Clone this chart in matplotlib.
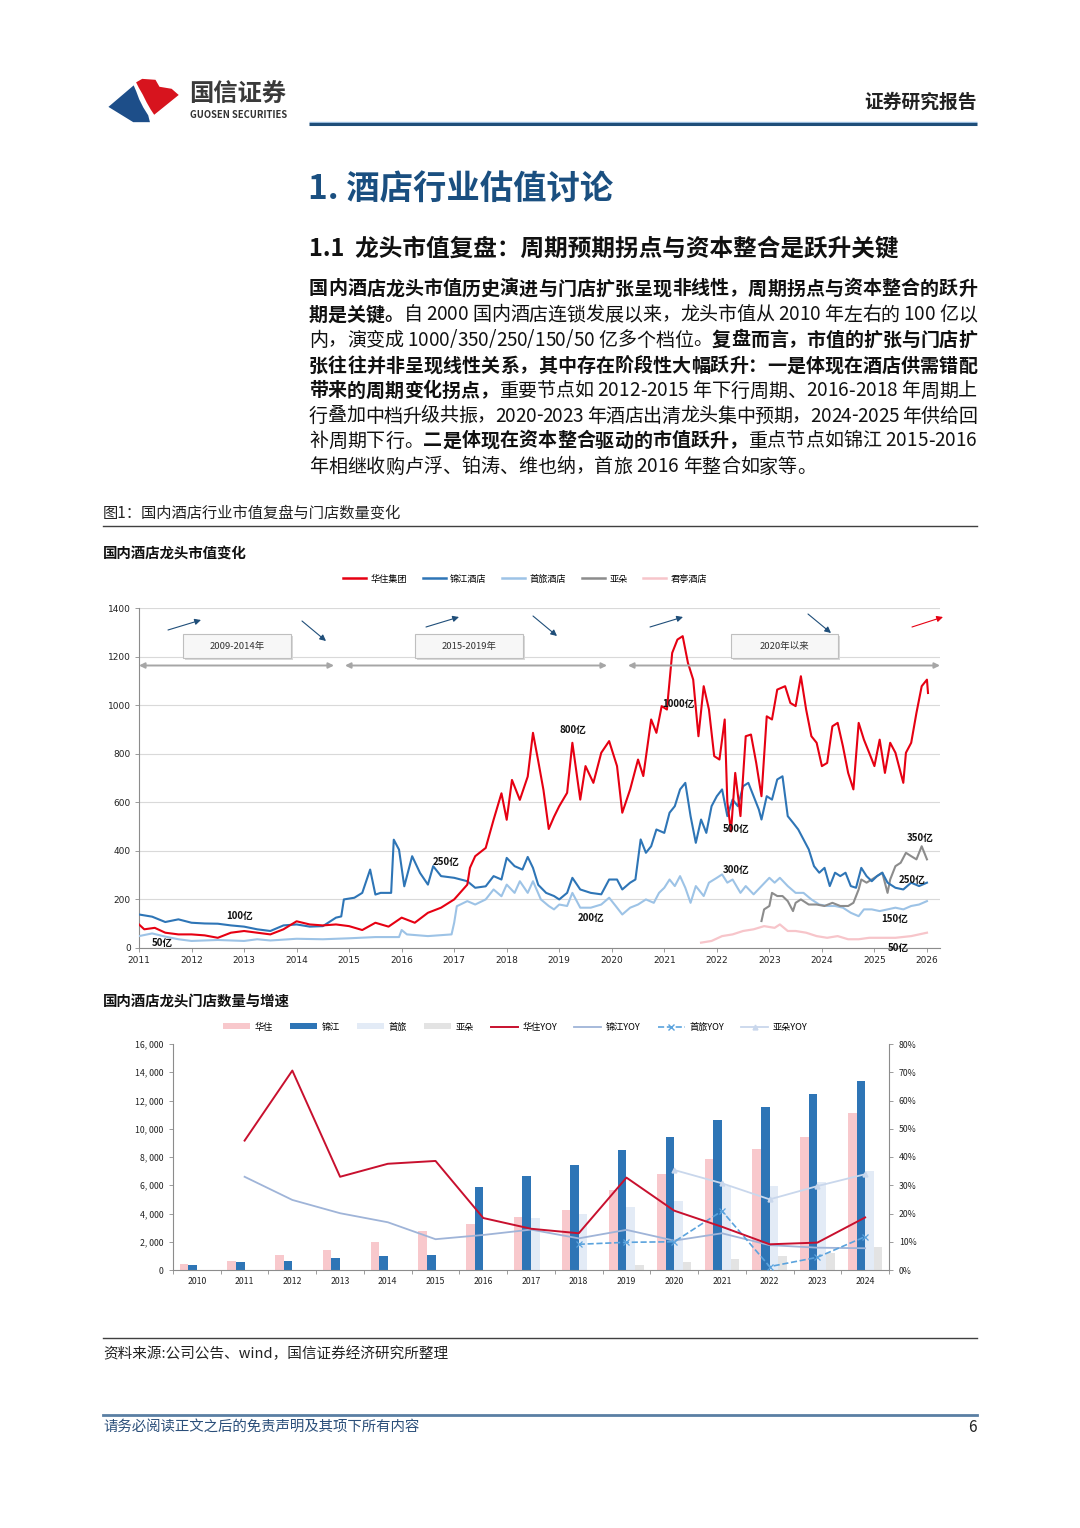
import matplotlib
matplotlib.use('Agg')
import matplotlib.pyplot as plt
import numpy as np
from matplotlib.patches import FancyBboxPatch, Polygon, Rectangle, Patch
from matplotlib.lines import Line2D
from matplotlib.ticker import FuncFormatter, MultipleLocator, FixedLocator

plt.rcParams['font.family'] = ['Noto Sans CJK SC', 'DejaVu Sans']
plt.rcParams['axes.unicode_minus'] = False

# ---------------------------------------------------------------------------
# 数据：龙头市值（亿元），按年份小数读取
# ---------------------------------------------------------------------------
hz_t = [2011.00, 2011.10, 2011.30, 2011.50, 2011.75, 2012.00, 2012.25, 2012.50, 2012.75, 2013.00,
        2013.25, 2013.50, 2013.75, 2014.00, 2014.25, 2014.50, 2014.75, 2015.00, 2015.25, 2015.50,
        2015.75, 2016.00, 2016.25, 2016.50, 2016.75, 2017.00, 2017.25, 2017.30, 2017.40, 2017.60,
        2017.75, 2017.90, 2018.00, 2018.10, 2018.25, 2018.40, 2018.50, 2018.60, 2018.70, 2018.80,
        2018.90, 2019.00, 2019.15, 2019.25, 2019.40, 2019.50, 2019.65, 2019.80, 2019.95, 2020.10,
        2020.20, 2020.35, 2020.50, 2020.60, 2020.75, 2020.85, 2020.95, 2021.05, 2021.15, 2021.25,
        2021.35, 2021.45, 2021.55, 2021.65, 2021.75, 2021.85, 2021.95, 2022.05, 2022.15, 2022.20,
        2022.27, 2022.35, 2022.45, 2022.55, 2022.65, 2022.75, 2022.85, 2022.95, 2023.05, 2023.15,
        2023.30, 2023.40, 2023.50, 2023.60, 2023.70, 2023.80, 2023.90, 2024.00, 2024.10, 2024.20,
        2024.30, 2024.40, 2024.50, 2024.60, 2024.70, 2024.80, 2024.90, 2025.00, 2025.10, 2025.20,
        2025.30, 2025.40, 2025.50, 2025.55, 2025.60, 2025.70, 2025.80, 2025.90, 2026.00, 2026.02]
hz_v = [97, 77, 83, 63, 56, 56, 52, 42, 63, 70,
        63, 56, 77, 110, 97, 93, 97, 90, 74, 104,
        88, 125, 104, 145, 166, 200, 261, 330, 378, 412,
        528, 637, 528, 692, 610, 706, 886, 770, 650, 490,
        540, 584, 639, 845, 611, 749, 680, 804, 852, 749,
        557, 653, 776, 708, 941, 886, 996, 982, 1215, 1270,
        1284, 1174, 1105, 872, 1078, 982, 790, 776, 941, 600,
        480, 721, 543, 872, 879, 762, 625, 954, 941, 1064,
        1078, 1009, 996, 1119, 982, 872, 845, 749, 762, 913,
        927, 831, 721, 653, 927, 858, 804, 749, 858, 721,
        845, 804, 721, 680, 804, 845, 968, 1078, 1105, 1050]

jj_t = [2011.00, 2011.25, 2011.50, 2011.75, 2012.00, 2012.25, 2012.50, 2012.75, 2013.00, 2013.25,
        2013.50, 2013.75, 2014.00, 2014.25, 2014.50, 2014.75, 2014.85, 2014.90, 2015.10, 2015.25,
        2015.40, 2015.50, 2015.60, 2015.80, 2015.85, 2015.95, 2016.05, 2016.20, 2016.35, 2016.50,
        2016.60, 2016.75, 2017.00, 2017.25, 2017.40, 2017.60, 2017.75, 2017.90, 2018.00, 2018.15,
        2018.30, 2018.40, 2018.50, 2018.60, 2018.75, 2018.90, 2019.00, 2019.15, 2019.25, 2019.40,
        2019.60, 2019.80, 2019.95, 2020.10, 2020.20, 2020.35, 2020.45, 2020.55, 2020.65, 2020.75,
        2020.85, 2021.00, 2021.10, 2021.20, 2021.30, 2021.40, 2021.50, 2021.60, 2021.70, 2021.80,
        2021.90, 2022.00, 2022.10, 2022.20, 2022.30, 2022.40, 2022.50, 2022.60, 2022.70, 2022.80,
        2022.85, 2022.95, 2023.05, 2023.15, 2023.25, 2023.35, 2023.45, 2023.55, 2023.65, 2023.75,
        2023.85, 2023.95, 2024.05, 2024.15, 2024.25, 2024.35, 2024.45, 2024.55, 2024.65, 2024.75,
        2024.85, 2024.95, 2025.05, 2025.15, 2025.25, 2025.40, 2025.55, 2025.70, 2025.85, 2026.00]
jj_v = [138, 129, 107, 118, 104, 101, 100, 93, 88, 77,
        70, 93, 97, 88, 90, 125, 130, 200, 207, 227,
        323, 220, 227, 227, 446, 405, 254, 378, 309, 261,
        337, 296, 289, 275, 248, 254, 296, 282, 371, 337,
        323, 375, 330, 260, 227, 214, 200, 227, 289, 241,
        227, 221, 282, 282, 241, 269, 282, 447, 392, 419,
        488, 474, 557, 584, 653, 680, 543, 433, 529, 474,
        584, 625, 653, 543, 611, 584, 666, 680, 625, 570,
        529, 625, 611, 694, 707, 543, 516, 488, 447, 406,
        337, 310, 330, 255, 310, 296, 310, 255, 248, 330,
        296, 275, 296, 310, 269, 248, 241, 269, 255, 269]

sl_t = [2011.00, 2011.25, 2011.50, 2011.75, 2012.00, 2012.50, 2013.00, 2013.25, 2013.50, 2014.00,
        2014.50, 2015.00, 2015.50, 2015.95, 2016.00, 2016.10, 2016.50, 2016.95, 2017.00, 2017.05,
        2017.25, 2017.40, 2017.60, 2017.75, 2017.90, 2018.00, 2018.15, 2018.25, 2018.40, 2018.50,
        2018.65, 2018.80, 2018.90, 2019.00, 2019.15, 2019.25, 2019.40, 2019.60, 2019.80, 2019.95,
        2020.10, 2020.20, 2020.35, 2020.50, 2020.65, 2020.80, 2020.90, 2021.00, 2021.10, 2021.20,
        2021.30, 2021.40, 2021.50, 2021.60, 2021.75, 2021.85, 2022.00, 2022.10, 2022.20, 2022.30,
        2022.45, 2022.55, 2022.70, 2022.85, 2023.00, 2023.10, 2023.20, 2023.35, 2023.50, 2023.65,
        2023.80, 2023.95, 2024.10, 2024.25, 2024.40, 2024.55, 2024.70, 2024.80, 2024.95, 2025.10,
        2025.25, 2025.40, 2025.55, 2025.70, 2025.85, 2026.00]
sl_v = [49, 60, 47, 36, 29, 33, 29, 36, 31, 38,
        36, 40, 45, 45, 74, 56, 49, 56, 104, 172,
        193, 179, 200, 241, 213, 261, 227, 275, 227, 275,
        200, 173, 159, 179, 173, 227, 166, 166, 179, 207,
        166, 138, 166, 179, 200, 186, 227, 248, 282, 255,
        296, 248, 186, 255, 214, 269, 289, 303, 269, 282,
        227, 255, 221, 255, 289, 269, 289, 255, 227, 227,
        200, 179, 173, 173, 166, 145, 131, 159, 159, 152,
        159, 166, 159, 173, 179, 193]

yd_t = [2022.85, 2022.90, 2023.00, 2023.05, 2023.15, 2023.25, 2023.35, 2023.45, 2023.50, 2023.60,
        2023.75, 2023.90, 2024.05, 2024.20, 2024.35, 2024.50, 2024.60, 2024.70, 2024.75, 2024.85,
        2024.95, 2025.05, 2025.15, 2025.25, 2025.30, 2025.40, 2025.50, 2025.60, 2025.70, 2025.80,
        2025.90, 2026.00]
yd_v = [111, 159, 173, 227, 214, 214, 193, 152, 186, 200,
        179, 179, 173, 186, 173, 173, 186, 241, 282, 269,
        282, 296, 310, 227, 282, 337, 351, 392, 378, 365,
        419, 365]

jt_t = [2021.70, 2021.90, 2022.10, 2022.30, 2022.50, 2022.70, 2022.90, 2023.10, 2023.20, 2023.35,
        2023.50, 2023.70, 2023.90, 2024.10, 2024.30, 2024.50, 2024.70, 2024.90, 2025.10, 2025.40,
        2025.70, 2026.00]
jt_v = [22, 29, 49, 56, 70, 77, 90, 83, 97, 70,
        70, 63, 49, 42, 49, 36, 36, 42, 42, 42,
        49, 63]

cap_years = list(range(2011, 2027))
cap_names = ['华住集团', '锦江酒店', '首旅酒店', '亚朵', '君亭酒店']
stage_names = ['2009-2014年', '2015-2019年', '2020年以来']
level_labels = ['50亿', '100亿', '250亿', '800亿', '1000亿', '500亿', '300亿',
                '200亿', '350亿', '250亿', '150亿', '50亿']

# ---------------------------------------------------------------------------
# 数据：门店数量（家）与增速（%）
# ---------------------------------------------------------------------------
store_years = ['2010', '2011', '2012', '2013', '2014', '2015', '2016', '2017',
               '2018', '2019', '2020', '2021', '2022', '2023', '2024']
hz_n = [420, 610, 1085, 1440, 1980, 2760, 3260, 3730, 4250, 5660, 6800, 7830, 8540, 9390, 11130]
jj_n = [380, 540, 660, 825, 970, 1060, 5850, 6680, 7430, 8500, 9400, 10600, 11560, 12450, 13400]
sl_n = [0, 0, 0, 0, 0, 0, 0, 3700, 4000, 4460, 4900, 5950, 5940, 6250, 7000]
yd_n = [0, 0, 0, 0, 0, 0, 0, 0, 0, 380, 560, 780, 960, 1220, 1620]
nan = np.nan
hz_yoy = [nan, 45.8, 70.6, 33.0, 37.6, 38.6, 18.4, 14.6, 13.0, 32.7, 21.0, 15.3, 9.1, 9.7, 18.6]
jj_yoy = [nan, 33.0, 24.8, 20.1, 16.9, 10.9, 12.4, 14.3, 11.2, 14.2, 10.4, 13.0, 8.8, 7.9, 7.7]
sl_yoy = [nan, nan, nan, nan, nan, nan, nan, nan, 9.1, 9.8, 10.0, 20.9, 1.2, 4.5, 11.8]
yd_yoy = [nan, nan, nan, nan, nan, nan, nan, nan, nan, nan, 35.4, 30.7, 25.0, 29.7, 33.9]
store_names = ['华住', '锦江', '首旅', '亚朵', '华住YOY', '锦江YOY', '首旅YOY', '亚朵YOY']

# 颜色
C_HZ = '#e60012'
C_JJ = '#2e75b6'
C_SL = '#9dc3e6'
C_YD = '#8c8c8c'
C_JT = '#f7c5ca'
C_NAVY = '#1f4e79'

# ---------------------------------------------------------------------------
# 页面
# ---------------------------------------------------------------------------
fig = plt.figure(figsize=(10.8, 15.28), dpi=100)
page = fig.add_axes([0, 0, 1, 1])
page.set_xlim(0, 1080)
page.set_ylim(1528, 0)
page.axis('off')


def ptext(x, y, s, size, **kw):
    kw.setdefault('va', 'center')
    kw.setdefault('color', '#111111')
    return page.text(x, y, s, fontsize=size, **kw)


# logo
blue_pts = [(107, 107), (134, 84), (137, 91), (140, 99), (144, 107), (149, 115), (151, 123), (133, 123)]
red_pts = [(135, 82), (142, 78), (156, 79), (160, 86), (172, 88), (180, 95), (154, 116),
           (150, 110), (146, 103), (142, 95), (138, 88)]
page.add_patch(Polygon(blue_pts, closed=True, fc='#1d4e89', ec='white', lw=1.2))
page.add_patch(Polygon(red_pts, closed=True, fc='#d7141e', ec='white', lw=1.2))
ptext(189, 95, '国信证券', 17.5, fontweight='bold', color='#3a3a3a')
ptext(190, 115, 'GUOSEN SECURITIES', 6.8, fontweight='bold', color='#333333')
ptext(977, 102, '证券研究报告', 13.5, fontweight='bold', ha='right', color='#222222')
page.plot([309, 977], [121.5, 121.5], color='#9cbfe0', lw=1.0, solid_capstyle='butt')
page.plot([309, 977], [124, 124], color=C_NAVY, lw=2.2, solid_capstyle='butt')

ptext(308, 190, '1. 酒店行业估值讨论', 24, color='#1a4f80', fontweight='bold')
ptext(309, 248, '1.1  龙头市值复盘：周期预期拐点与资本整合是跃升关键', 17, fontweight='bold')

# 正文（两端对齐，逐字排布）
BODY_FS = 13.7
BODY_L, BODY_R = 309, 977
renderer = fig.canvas.get_renderer()
_w_cache = {}


def char_w(c, bold):
    key = (c, bold)
    if key not in _w_cache:
        wt = 'bold' if bold else 'normal'
        t1 = page.text(0, 0, '国' + c + '国', fontsize=BODY_FS, fontweight=wt)
        t2 = page.text(0, 0, '国国', fontsize=BODY_FS, fontweight=wt)
        _w_cache[key] = (t1.get_window_extent(renderer).width
                         - t2.get_window_extent(renderer).width)
        t1.remove()
        t2.remove()
    return _w_cache[key]


def draw_line(segs, y, justify=True):
    chars = [(c, b) for s, b in segs for c in s]
    widths = [char_w(c, b) for c, b in chars]
    gap = (BODY_R - BODY_L - sum(widths)) / (len(chars) - 1) if justify else 0
    x = BODY_L
    for (c, b), w in zip(chars, widths):
        if c != ' ':
            page.text(x, y, c, fontsize=BODY_FS, fontweight='bold' if b else 'normal',
                      va='center', ha='left', color='#111111')
        x += w + gap


B, N = True, False
body = [
    [('国内酒店龙头市值历史演进与门店扩张呈现非线性，周期拐点与资本整合的跃升', B)],
    [('期是关键。', B), ('自 2000 国内酒店连锁发展以来，龙头市值从 2010 年左右的 100 亿以', N)],
    [('内，演变成 1000/350/250/150/50 亿多个档位。', N), ('复盘而言，市值的扩张与门店扩', B)],
    [('张往往并非呈现线性关系，其中存在阶段性大幅跃升：一是体现在酒店供需错配', B)],
    [('带来的周期变化拐点，', B), ('重要节点如 2012-2015 年下行周期、2016-2018 年周期上', N)],
    [('行叠加中档升级共振，2020-2023 年酒店出清龙头集中预期，2024-2025 年供给回', N)],
    [('补周期下行。', N), ('二是体现在资本整合驱动的市值跃升，', B), ('重点节点如锦江 2015-2016', N)],
    [('年相继收购卢浮、铂涛、维也纳，首旅 2016 年整合如家等。', N)],
]
line_y = [289, 315, 340, 366, 391, 416, 441, 467]
for i, (segs, y) in enumerate(zip(body, line_y)):
    draw_line(segs, y, justify=(i < len(body) - 1))

ptext(103, 513, '图1：国内酒店行业市值复盘与门店数量变化', 11, color='#222222')
page.plot([103, 977], [526, 526], color='#404040', lw=1.0)
ptext(103, 555, '国内酒店龙头市值变化', 10.4, fontweight='bold')
ptext(103, 1003, '国内酒店龙头门店数量与增速', 10.4, fontweight='bold')
page.plot([103, 977], [1338, 1338], color='#404040', lw=1.0)
ptext(103, 1354, '资料来源:公司公告、wind，国信证券经济研究所整理', 10.5, color='#222222')
page.plot([103, 977], [1415, 1415], color='#5a7fa3', lw=2.0)
ptext(103, 1427, '请务必阅读正文之后的免责声明及其项下所有内容', 10.4, color='#2b4f7a', style='italic')
ptext(977, 1428, '6', 11, ha='right', color='#222222')

# ---------------------------------------------------------------------------
# 图一：龙头市值
# ---------------------------------------------------------------------------
ax1 = fig.add_axes([139 / 1080, 1 - 948 / 1528, 801 / 1080, 340 / 1528])


def tx(px):
    return 2011 + (px - 139) / 52.53


def ty(py):
    return (948 - py) * 1400 / 340


ax1.plot(jt_t, jt_v, color=C_JT, lw=1.6, zorder=3)
ax1.plot(sl_t, sl_v, color=C_SL, lw=1.5, zorder=3)
ax1.plot(yd_t, yd_v, color=C_YD, lw=1.5, zorder=3)
ax1.plot(jj_t, jj_v, color=C_JJ, lw=1.5, zorder=4)
ax1.plot(hz_t, hz_v, color=C_HZ, lw=1.5, zorder=5)

ax1.set_xlim(2011, tx(940))
ax1.set_ylim(0, 1400)
ax1.set_xticks(cap_years)
ax1.set_yticks(range(0, 1401, 200))
ax1.yaxis.grid(True, color='#d9d9d9', lw=0.8)
ax1.set_axisbelow(True)
for s in ['top', 'right']:
    ax1.spines[s].set_visible(False)
for s in ['left', 'bottom']:
    ax1.spines[s].set_color('#8c8c8c')
    ax1.spines[s].set_linewidth(0.8)
ax1.tick_params(labelsize=6.5, length=3, width=0.6, color='#8c8c8c', pad=3, labelcolor='#222222')
for lab in ax1.get_xticklabels() + ax1.get_yticklabels():
    lab.set_fontfamily('DejaVu Sans')

# 阶段标签框
box_px = [(183, 291), (415, 523), (731, 838)]
for (x0, x1), name in zip(box_px, stage_names):
    ax1.add_patch(Rectangle((tx(x0 + 2), ty(660)), tx(x1) - tx(x0), ty(634) - ty(658),
                            fc='#d9d9d9', ec='none', zorder=6))
    ax1.add_patch(FancyBboxPatch((tx(x0), ty(658)), tx(x1) - tx(x0), ty(634) - ty(658),
                                 boxstyle='square,pad=0', fc='#f7f7f7', ec='#bfbfbf',
                                 lw=0.8, zorder=7))
    ax1.text((tx(x0) + tx(x1)) / 2, ty(646), name, fontsize=6.8, ha='center', va='center',
             color='#333333', zorder=8)

# 阶段双向箭头
for a, b in [(139, 334), (345, 607), (628, 940)]:
    ax1.annotate('', xy=(tx(b), ty(665.5)), xytext=(tx(a), ty(665.5)),
                 arrowprops=dict(arrowstyle='<|-|>', color='#a6a6a6', lw=1.4,
                                 mutation_scale=8, shrinkA=0, shrinkB=0),
                 annotation_clip=False, zorder=6)

# 周期方向小箭头
trend_arrows = [((168, 630), (201, 620), C_NAVY), ((302, 621), (326, 641), C_NAVY),
                ((426, 627), (459, 617), C_NAVY), ((533, 616), (557, 636), C_NAVY),
                ((650, 627), (683, 617), C_NAVY), ((808, 614), (831, 633), C_NAVY),
                ((912, 627), (943, 617), C_HZ)]
for (x0, y0), (x1, y1), col in trend_arrows:
    ax1.annotate('', xy=(tx(x1), ty(y1)), xytext=(tx(x0), ty(y0)),
                 arrowprops=dict(arrowstyle='-|>', color=col, lw=0.8,
                                 mutation_scale=9, shrinkA=0, shrinkB=0),
                 annotation_clip=False, zorder=6)

# 市值档位标注
label_px = [(162, 943), (240, 916), (446, 862), (573, 730), (678, 704), (736, 829), (736, 870),
            (591, 918), (920, 838), (912, 880), (895, 919), (898, 948)]
for s, (px, py) in zip(level_labels, label_px):
    ax1.text(tx(px), ty(py), s, fontsize=7, fontweight='bold', ha='center', va='center',
             color='#111111', zorder=9, clip_on=False)

cap_handles = [Line2D([], [], color=c, lw=1.8) for c in [C_HZ, C_JJ, C_SL, C_YD, C_JT]]
ax1.legend(cap_handles, cap_names, loc='center', bbox_to_anchor=(0.482, 1.085), ncol=5,
           frameon=False, fontsize=6.6, handlelength=2.5, handletextpad=0.5, columnspacing=1.7)

# ---------------------------------------------------------------------------
# 图二：门店数量与增速
# ---------------------------------------------------------------------------
ax2 = fig.add_axes([173 / 1080, 1 - 1270 / 1528, 716 / 1080, 226 / 1528])
x = np.arange(len(store_years))
w = 0.18
bar_cols = ['#f8c8cc', C_JJ, '#e3ebf6', '#e3e3e3']
ax2.bar(x - 1.5 * w, hz_n, w, color=bar_cols[0], zorder=2)
ax2.bar(x - 0.5 * w, jj_n, w, color=bar_cols[1], zorder=2)
ax2.bar(x + 0.5 * w, sl_n, w, color=bar_cols[2], zorder=2)
ax2.bar(x + 1.5 * w, yd_n, w, color=bar_cols[3], zorder=2)
ax2.set_xlim(-0.5, len(store_years) - 0.5)
ax2.set_ylim(0, 16000)
ax2.yaxis.set_major_locator(MultipleLocator(2000))
ax2.yaxis.set_major_formatter(FuncFormatter(lambda v, p: f'{v:,.0f}'.replace(',', ', ')))
ax2.set_xticks(x)
ax2.set_xticklabels(store_years)
ax2.xaxis.set_minor_locator(FixedLocator(np.arange(-0.5, len(store_years), 1.0)))
ax2.tick_params(axis='x', which='major', length=0, pad=5)
ax2.tick_params(axis='x', which='minor', length=3, width=0.6, color='#8c8c8c')
ax2.tick_params(axis='y', length=3, width=0.6, color='#8c8c8c', pad=4)
ax2.tick_params(labelsize=6.3, labelcolor='#222222')
ax2.spines['top'].set_visible(False)
ax2.spines['right'].set_visible(False)
for s in ['left', 'bottom']:
    ax2.spines[s].set_color('#8c8c8c')
    ax2.spines[s].set_linewidth(0.8)

ax3 = ax2.twinx()
ax3.plot(x, jj_yoy, color='#9fb4d8', lw=1.3, zorder=3)
ax3.plot(x, yd_yoy, color='#c9d7ec', lw=1.3, marker='^', ms=3.5, zorder=3)
ax3.plot(x, sl_yoy, color='#5ba3dd', lw=1.2, ls='--', marker='x', ms=4, mew=0.9, zorder=4)
ax3.plot(x, hz_yoy, color='#c8102e', lw=1.4, zorder=5)
ax3.set_ylim(0, 80)
ax3.yaxis.set_major_locator(MultipleLocator(10))
ax3.yaxis.set_major_formatter(FuncFormatter(lambda v, p: f'{v:.0f}%'))
ax3.tick_params(axis='y', labelsize=6.3, length=3, width=0.6, color='#8c8c8c', pad=4,
                labelcolor='#222222')
ax3.spines['top'].set_visible(False)
ax3.spines['left'].set_visible(False)
ax3.spines['bottom'].set_visible(False)
ax3.spines['right'].set_color('#8c8c8c')
ax3.spines['right'].set_linewidth(0.8)

store_handles = [Patch(fc=c, ec='none') for c in bar_cols] + [
    Line2D([], [], color='#c8102e', lw=1.4),
    Line2D([], [], color='#9fb4d8', lw=1.3),
    Line2D([], [], color='#5ba3dd', lw=1.2, ls='--', marker='x', ms=4),
    Line2D([], [], color='#c9d7ec', lw=1.3, marker='^', ms=3.5),
]
ax3.legend(store_handles, store_names, loc='center', bbox_to_anchor=(0.478, 1.075), ncol=8,
           frameon=False, fontsize=6.6, handlelength=2.95, handleheight=0.6,
           handletextpad=0.5, columnspacing=1.86)

fig.savefig('out.png', dpi=100, facecolor='white')
